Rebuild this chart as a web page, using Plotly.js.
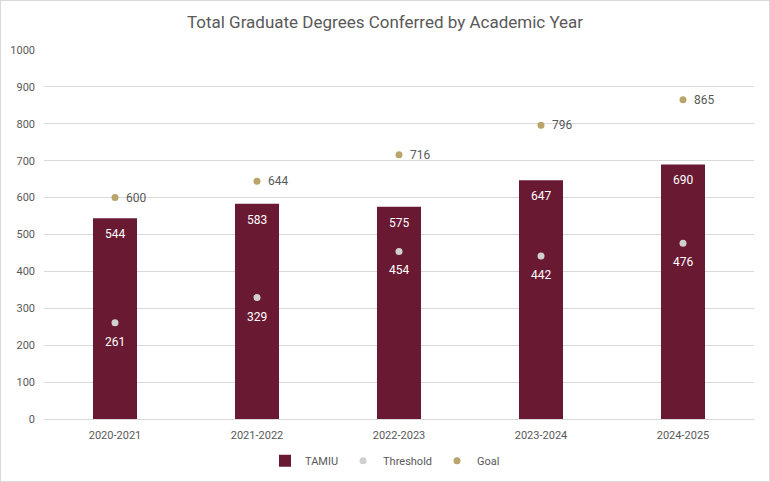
<!DOCTYPE html>
<html>
<head>
<meta charset="utf-8">
<script src="https://cdn.plot.ly/plotly-3.0.1.min.js"></script>
<style>
  body { margin: 0; background: #fff; }
  #chart { width: 770px; height: 482px; box-sizing: border-box; border: 1px solid #d9d9d9; }
</style>
</head>
<body>
<div id="chart"></div>
<script>
const years = ['2020-2021', '2021-2022', '2022-2023', '2023-2024', '2024-2025'];
const tamiu = [544, 583, 575, 647, 690];
const threshold = [261, 329, 454, 442, 476];
const goal = [600, 644, 716, 796, 865];

const grey = '#595959';
const font = 'Roboto, "Open Sans", sans-serif';

let barTrace = {
  x: years,
  y: tamiu,
  name: 'TAMIU',
  type: 'bar',
  width: 0.31,
  marker: { color: '#691a32' },
  hoverinfo: 'skip'
};

let thresholdTrace = {
  x: years,
  y: threshold,
  name: 'Threshold',
  type: 'scatter',
  mode: 'markers',
  marker: { color: '#d0d0d0', size: 7 }
};

let goalTrace = {
  x: years,
  y: goal,
  name: 'Goal',
  type: 'scatter',
  mode: 'markers',
  marker: { color: '#b9a46a', size: 7 }
};

// value labels
let notes = [];
years.forEach((yr, i) => {
  notes.push({ x: yr, y: tamiu[i], text: String(tamiu[i]), showarrow: false,
    yanchor: 'top', yshift: -7, font: { color: '#ffffff', size: 12, family: font } });
  notes.push({ x: yr, y: threshold[i], text: String(threshold[i]), showarrow: false,
    yanchor: 'top', yshift: -10, font: { color: '#ffffff', size: 12, family: font } });
  notes.push({ x: yr, y: goal[i], text: String(goal[i]), showarrow: false,
    xanchor: 'left', xshift: 9, yanchor: 'middle', font: { color: grey, size: 12, family: font } });
});

let layout = {
  width: 768,
  height: 480,
  margin: { l: 43, r: 15, t: 49, b: 62 },
  paper_bgcolor: '#ffffff',
  plot_bgcolor: '#ffffff',
  font: { family: font, color: grey, size: 11 },
  title: {
    text: 'Total Graduate Degrees Conferred by Academic Year',
    font: { size: 17, color: grey, family: font },
    x: 0.5, xanchor: 'center', y: 0.957, yanchor: 'middle'
  },
  xaxis: {
    type: 'category',
    showgrid: false,
    showline: true,
    linecolor: '#d9d9d9',
    tickfont: { size: 11, color: grey },
    ticks: '',
    ticklabelstandoff: 6
  },
  yaxis: {
    range: [0, 1000],
    dtick: 100,
    gridcolor: '#d9d9d9',
    zeroline: false,
    tickfont: { size: 11, color: grey },
    ticks: '',
    ticklabelstandoff: 8,
    fixedrange: true
  },
  showlegend: true,
  legend: {
    orientation: 'h',
    xref: 'container',
    yref: 'container',
    x: 0.5, xanchor: 'center',
    y: 0.042, yanchor: 'middle',
    font: { size: 11, color: grey },
    itemwidth: 30
  },
  annotations: notes
};

Plotly.newPlot('chart', [barTrace, thresholdTrace, goalTrace], layout, { displayModeBar: false, staticPlot: true });
</script>
</body>
</html>
